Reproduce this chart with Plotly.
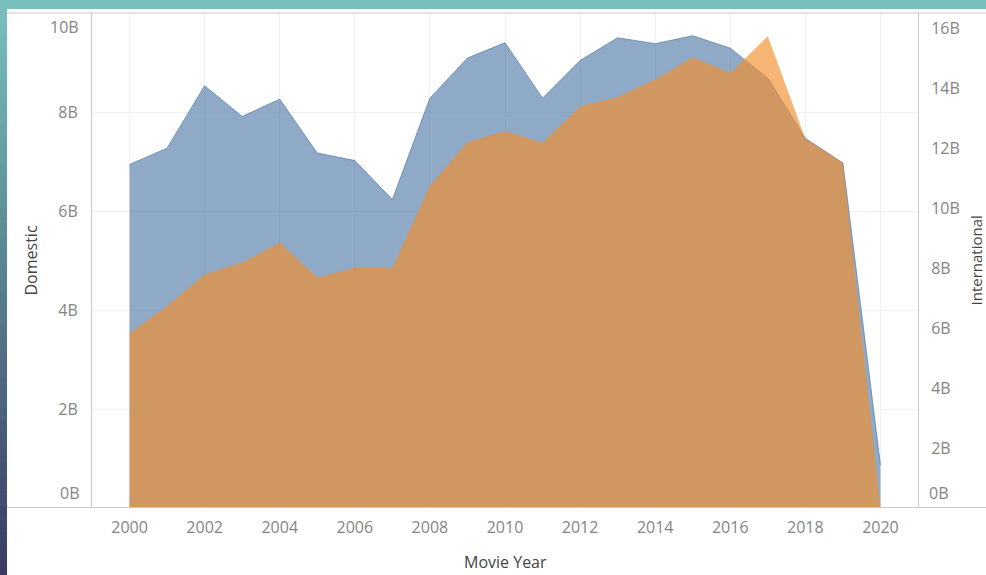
import plotly.graph_objects as go

# Box office totals by movie year (billions of US dollars)
years = list(range(2000, 2021))
domestic = [6.94, 7.27, 8.53, 7.91, 8.26, 7.17, 7.02, 6.23, 8.28, 9.09, 9.40,
            8.28, 9.04, 9.50, 9.38, 9.54, 9.29, 8.68, 7.47, 6.97, 0.87]
international = [5.83, 6.74, 7.80, 8.19, 8.86, 7.69, 8.02, 8.02, 10.75, 12.21, 12.58,
                 12.19, 13.41, 13.72, 14.30, 15.04, 14.52, 15.74, 12.32, 11.52, 0.0]

x_ticks = list(range(2000, 2021, 2))
left_ticks = [2, 4, 6, 8]
right_ticks = [2, 4, 6, 8, 10, 12, 14, 16]

B = 1e9
W, H = 986, 575
L, R, T, BOT = 92, 68, 13, 67
plot_w = W - L - R
plot_h = H - T - BOT

FONT = "Open Sans"
TICK_COLOR = "#858585"
TITLE_COLOR = "#444444"
AXIS_LINE = "#c9c9c9"
GRID = "#f0f0f0"

fig = go.Figure()

fig.add_trace(go.Scatter(
    x=years, y=[v * B for v in domestic], name="Domestic",
    mode="lines", fill="tozeroy",
    line=dict(color="rgba(78,121,167,0.7)", width=1),
    fillcolor="rgba(78,121,167,0.63)",
    yaxis="y", hoverinfo="x+y",
))
fig.add_trace(go.Scatter(
    x=years, y=[v * B for v in international], name="International",
    mode="lines", fill="tozeroy",
    line=dict(color="rgba(242,142,43,0.0)", width=0),
    fillcolor="rgba(242,142,43,0.65)",
    yaxis="y2", hoverinfo="x+y",
))

fig.update_layout(
    width=W, height=H,
    margin=dict(l=L, r=R, t=T, b=BOT, pad=0),
    paper_bgcolor="white", plot_bgcolor="white",
    showlegend=False,
    font=dict(family=FONT, size=16, color=TICK_COLOR),
    xaxis=dict(
        range=[1999.0, 2021.0],
        tickvals=x_ticks, ticktext=[str(v) for v in x_ticks],
        showgrid=True, gridcolor=GRID, gridwidth=1,
        showline=False, zeroline=False, ticks="",
        ticklabelstandoff=8,
        tickfont=dict(family=FONT, size=16, color=TICK_COLOR),
    ),
    yaxis=dict(
        range=[0, 10 * B],
        tickvals=[v * B for v in left_ticks],
        ticktext=[f"{v}B" for v in left_ticks],
        showgrid=True, gridcolor=GRID, gridwidth=1,
        showline=True, linecolor=AXIS_LINE, linewidth=1, mirror=False,
        zeroline=False, ticks="", ticklabelstandoff=10,
        tickfont=dict(family=FONT, size=16, color=TICK_COLOR),
    ),
    yaxis2=dict(
        range=[0, 16.52 * B], overlaying="y", side="right",
        tickvals=[v * B for v in right_ticks],
        ticktext=[f"{v}B" for v in right_ticks],
        showgrid=False, showline=True, linecolor=AXIS_LINE, linewidth=1,
        zeroline=False, ticks="", ticklabelstandoff=9,
        tickfont=dict(family=FONT, size=16, color=TICK_COLOR),
    ),
)

def px_x(p):
    return (p - L) / plot_w

def px_y(p):
    return (H - BOT - p) / plot_h

# End labels sit inside the axis span
fig.add_annotation(text="0B", xref="paper", yref="y", x=0, y=0, xanchor="right",
                   yanchor="middle", xshift=-11, yshift=15, showarrow=False,
                   font=dict(family=FONT, size=16, color=TICK_COLOR))
fig.add_annotation(text="10B", xref="paper", yref="y", x=0, y=10 * B, xanchor="right",
                   yanchor="middle", xshift=-11, yshift=-14, showarrow=False,
                   font=dict(family=FONT, size=16, color=TICK_COLOR))
fig.add_annotation(text="0B", xref="paper", yref="y2", x=1, y=0, xanchor="left",
                   yanchor="middle", xshift=9, yshift=15, showarrow=False,
                   font=dict(family=FONT, size=16, color=TICK_COLOR))

# Axis titles
fig.add_annotation(text="Movie Year", xref="paper", yref="paper",
                   x=0.5, y=px_y(562), xanchor="center", yanchor="middle",
                   showarrow=False, font=dict(family=FONT, size=16, color=TITLE_COLOR))
fig.add_annotation(text="Domestic", xref="paper", yref="paper",
                   x=px_x(30), y=0.5, textangle=-90, xanchor="center", yanchor="middle",
                   showarrow=False, font=dict(family=FONT, size=16, color=TITLE_COLOR))
fig.add_annotation(text="International", xref="paper", yref="paper",
                   x=px_x(975), y=0.5, textangle=-90, xanchor="center", yanchor="middle",
                   showarrow=False, borderpad=0,
                   font=dict(family=FONT, size=15, color=TITLE_COLOR))

shapes = []
# frame lines across the panel
shapes.append(dict(type="line", xref="paper", yref="paper",
                   x0=px_x(7), x1=px_x(W), y0=px_y(13), y1=px_y(13),
                   line=dict(color=AXIS_LINE, width=1)))
shapes.append(dict(type="line", xref="paper", yref="paper",
                   x0=px_x(7), x1=px_x(W), y0=px_y(507.5), y1=px_y(507.5),
                   line=dict(color=AXIS_LINE, width=1)))
# slide border: teal band on top, gradient strip on the left
shapes.append(dict(type="rect", xref="paper", yref="paper",
                   x0=px_x(0), x1=px_x(W), y0=px_y(0), y1=px_y(9),
                   fillcolor="rgb(120,192,188)", line=dict(width=0), layer="above"))
top_c = (118, 190, 186)
bot_c = (58, 60, 100)
n = 40
for i in range(n):
    t = i / (n - 1)
    c = tuple(round(top_c[k] + (bot_c[k] - top_c[k]) * t) for k in range(3))
    y0 = 9 + (H - 9) * i / n
    y1 = 9 + (H - 9) * (i + 1) / n
    shapes.append(dict(type="rect", xref="paper", yref="paper",
                       x0=px_x(0), x1=px_x(7), y0=px_y(y0), y1=px_y(y1 + 0.5),
                       fillcolor=f"rgb{c}", line=dict(width=0), layer="above"))
fig.update_layout(shapes=shapes)

fig.write_html("out.html")
